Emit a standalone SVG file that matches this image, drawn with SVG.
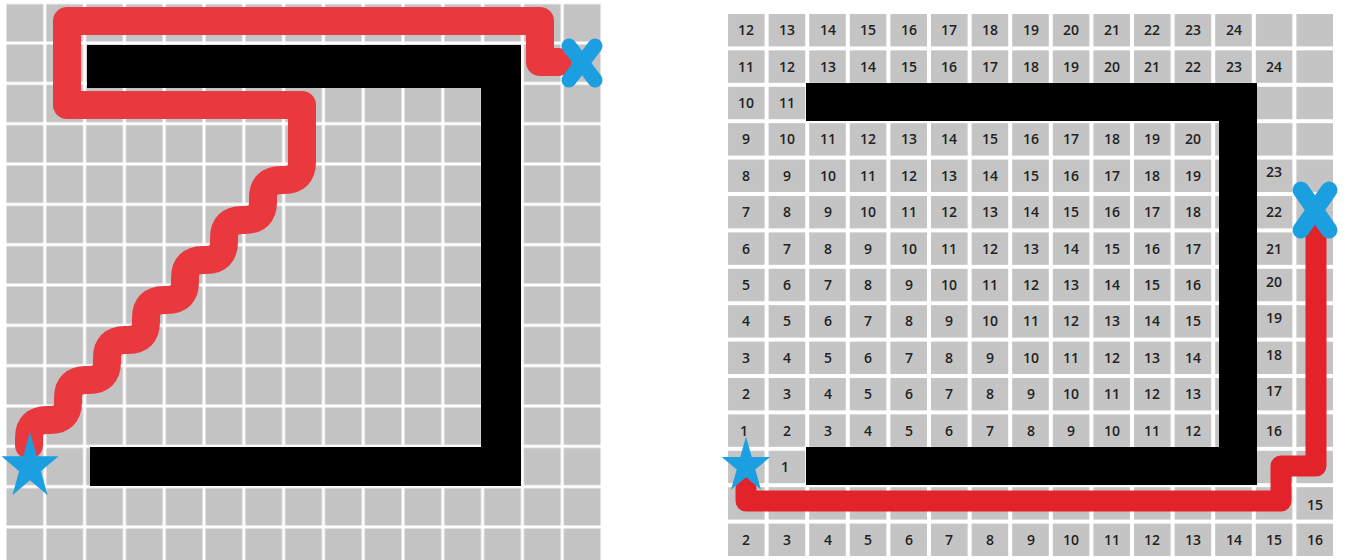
<svg xmlns="http://www.w3.org/2000/svg" xmlns:xlink="http://www.w3.org/1999/xlink" width="1346" height="560" viewBox="0 0 1346 560">
<style>
.n{font-family:"Open Sans","Liberation Sans",sans-serif;font-size:14px;font-weight:600;fill:#222;text-anchor:middle}
.wall{fill:#000}
.blue{fill:#1c9fe0}
.cross{stroke:#1c9fe0;stroke-linecap:round;fill:none}
.pathL{fill:none;stroke:#e9393e;stroke-width:28;stroke-linejoin:round;stroke-linecap:round}
.pathR{fill:none;stroke:#e3232a;stroke-width:21;stroke-linejoin:round;stroke-linecap:round}
</style>
<defs>
<pattern id="lgrid" x="5" y="2.7" width="39.8" height="40.33" patternUnits="userSpaceOnUse"><rect x="1.5" y="1.5" width="36.8" height="37.33" fill="#c3c3c3"/></pattern>
<pattern id="rgrid" x="726" y="12" width="40.6" height="36.4" patternUnits="userSpaceOnUse"><rect x="2" y="2" width="36.6" height="32.4" fill="#c4c4c4"/></pattern>
<polygon id="star" points="0,-10 2.245,-3.09 9.511,-3.09 3.633,1.18 5.878,8.09 0,3.82 -5.878,8.09 -3.633,1.18 -9.511,-3.09 -2.245,-3.09"/>
</defs>
<rect width="1346" height="560" fill="#fff"/>

<!-- LEFT PANEL -->
<g id="left-grid"><rect x="5" y="2.7" width="597" height="560" fill="url(#lgrid)"/></g>
<g id="left-walls">
<rect class="wall" x="87" y="45" width="434" height="43"/>
<rect class="wall" x="481" y="45" width="40" height="441"/>
<rect class="wall" x="90" y="447" width="431" height="39"/>
</g>
<g id="left-connectors">
<path class="pathL" d="M558,62 H540 V21 H67 V105 H302 V162 Q302,180 284,180 H281 Q263,180 263,198 V202 Q263,220 245,220 H242 Q224,220 224,238 V242 Q224,260 206,260 H203 Q185,260 185,278 V282 Q185,300 167,300 H164 Q146,300 146,318 V322 Q146,340 128,340 H125 Q107,340 107,358 V362 Q107,380 89,380 H86 Q68,380 68,398 V402 Q68,420 50,420 H47 Q29,420 29,438 V445"/>
</g>
<g id="left-start"><use xlink:href="#star" class="blue" transform="translate(30,467) scale(3.0,3.5)"/></g>
<g id="left-goal">
<line class="cross" stroke-width="15" x1="569" y1="46" x2="595" y2="80"/>
<line class="cross" stroke-width="15" x1="595" y1="46" x2="569" y2="80"/>
</g>

<!-- RIGHT PANEL -->
<g id="right-grid"><rect x="726" y="12" width="609" height="546" fill="url(#rgrid)"/></g>
<g id="right-labels" class="n">
<g transform="translate(0,35)"><text x="746">12</text><text x="787">13</text><text x="828">14</text><text x="868">15</text><text x="909">16</text><text x="949">17</text><text x="990">18</text><text x="1031">19</text><text x="1071">20</text><text x="1112">21</text><text x="1152">22</text><text x="1193">23</text><text x="1234">24</text></g>
<g transform="translate(0,72)"><text x="746">11</text><text x="787">12</text><text x="828">13</text><text x="868">14</text><text x="909">15</text><text x="949">16</text><text x="990">17</text><text x="1031">18</text><text x="1071">19</text><text x="1112">20</text><text x="1152">21</text><text x="1193">22</text><text x="1234">23</text><text x="1274">24</text></g>
<g transform="translate(0,108)"><text x="746">10</text><text x="787">11</text></g>
<g transform="translate(0,144)"><text x="746">9</text><text x="787">10</text><text x="828">11</text><text x="868">12</text><text x="909">13</text><text x="949">14</text><text x="990">15</text><text x="1031">16</text><text x="1071">17</text><text x="1112">18</text><text x="1152">19</text><text x="1193">20</text></g>
<g transform="translate(0,181)"><text x="746">8</text><text x="787">9</text><text x="828">10</text><text x="868">11</text><text x="909">12</text><text x="949">13</text><text x="990">14</text><text x="1031">15</text><text x="1071">16</text><text x="1112">17</text><text x="1152">18</text><text x="1193">19</text><text x="1274" y="-4">23</text></g>
<g transform="translate(0,217)"><text x="746">7</text><text x="787">8</text><text x="828">9</text><text x="868">10</text><text x="909">11</text><text x="949">12</text><text x="990">13</text><text x="1031">14</text><text x="1071">15</text><text x="1112">16</text><text x="1152">17</text><text x="1193">18</text><text x="1274">22</text></g>
<g transform="translate(0,254)"><text x="746">6</text><text x="787">7</text><text x="828">8</text><text x="868">9</text><text x="909">10</text><text x="949">11</text><text x="990">12</text><text x="1031">13</text><text x="1071">14</text><text x="1112">15</text><text x="1152">16</text><text x="1193">17</text><text x="1274">21</text></g>
<g transform="translate(0,290)"><text x="746">5</text><text x="787">6</text><text x="828">7</text><text x="868">8</text><text x="909">9</text><text x="949">10</text><text x="990">11</text><text x="1031">12</text><text x="1071">13</text><text x="1112">14</text><text x="1152">15</text><text x="1193">16</text><text x="1274" y="-3">20</text></g>
<g transform="translate(0,326)"><text x="746">4</text><text x="787">5</text><text x="828">6</text><text x="868">7</text><text x="909">8</text><text x="949">9</text><text x="990">10</text><text x="1031">11</text><text x="1071">12</text><text x="1112">13</text><text x="1152">14</text><text x="1193">15</text><text x="1274" y="-3">19</text></g>
<g transform="translate(0,363)"><text x="746">3</text><text x="787">4</text><text x="828">5</text><text x="868">6</text><text x="909">7</text><text x="949">8</text><text x="990">9</text><text x="1031">10</text><text x="1071">11</text><text x="1112">12</text><text x="1152">13</text><text x="1193">14</text><text x="1274" y="-3">18</text></g>
<g transform="translate(0,399)"><text x="746">2</text><text x="787">3</text><text x="828">4</text><text x="868">5</text><text x="909">6</text><text x="949">7</text><text x="990">8</text><text x="1031">9</text><text x="1071">10</text><text x="1112">11</text><text x="1152">12</text><text x="1193">13</text><text x="1274" y="-3">17</text></g>
<g transform="translate(0,436)"><text x="744">1</text><text x="787">2</text><text x="828">3</text><text x="868">4</text><text x="909">5</text><text x="949">6</text><text x="990">7</text><text x="1031">8</text><text x="1071">9</text><text x="1112">10</text><text x="1152">11</text><text x="1193">12</text><text x="1274">16</text></g>
<g transform="translate(0,472)"><text x="785">1</text></g>
<g transform="translate(0,510)"><text x="1315">15</text></g>
<g transform="translate(0,545)"><text x="746">2</text><text x="787">3</text><text x="828">4</text><text x="868">5</text><text x="909">6</text><text x="949">7</text><text x="990">8</text><text x="1031">9</text><text x="1071">10</text><text x="1112">11</text><text x="1152">12</text><text x="1193">13</text><text x="1234">14</text><text x="1274">15</text><text x="1315">16</text></g>
</g>
<g id="right-walls">
<rect class="wall" x="806" y="83" width="451" height="38"/>
<rect class="wall" x="1219" y="83" width="38" height="402"/>
<rect class="wall" x="806" y="447" width="451" height="38"/>
</g>
<g id="right-connectors">
<path class="pathR" d="M746,480 V501 H1281 V466 H1316 V232"/>
</g>
<g id="right-start"><use xlink:href="#star" class="blue" transform="translate(746,466) scale(2.55,2.95)"/></g>
<g id="right-goal">
<line class="cross" stroke-width="17" x1="1301" y1="190" x2="1329" y2="230"/>
<line class="cross" stroke-width="17" x1="1329" y1="190" x2="1301" y2="230"/>
</g>
</svg>
